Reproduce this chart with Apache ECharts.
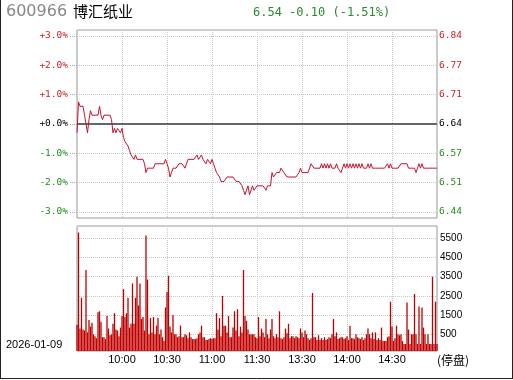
<!DOCTYPE html>
<html><head><meta charset="utf-8">
<script src="https://cdn.jsdelivr.net/npm/echarts@6/dist/echarts.min.js"></script>
<style>html,body{margin:0;padding:0;background:#fff}#c{width:513px;height:380px}</style>
</head><body><div id="c"></div>
<script>
const CODE = '600966';
const NAME = '博汇纸业';
const DATE = '2026-01-09';
const QUOTE = '6.54 -0.10 (-1.51%)';
const PREV_CLOSE = 6.64;
const TIME_LABELS = ['09:30','10:00','10:30','11:00','11:30','13:30','14:00','14:30','15:00'];
const VOL_TICKS = [500, 1500, 2500, 3500, 4500, 5500];

const PRICE = [
6.62,6.69,6.68,6.68,6.68,6.66,6.64,6.62,6.65,6.67,
6.66,6.66,6.66,6.66,6.66,6.68,6.66,6.65,6.66,6.66,
6.66,6.66,6.66,6.65,6.62,6.63,6.62,6.63,6.63,6.62,
6.63,6.61,6.60,6.60,6.59,6.58,6.57,6.57,6.56,6.57,
6.56,6.56,6.56,6.56,6.56,6.55,6.53,6.54,6.54,6.54,
6.54,6.54,6.55,6.55,6.55,6.55,6.55,6.55,6.55,6.56,
6.55,6.54,6.52,6.53,6.54,6.54,6.54,6.54,6.55,6.55,
6.55,6.55,6.54,6.55,6.56,6.56,6.56,6.56,6.56,6.56,
6.57,6.56,6.56,6.57,6.56,6.56,6.55,6.56,6.56,6.55,
6.56,6.55,6.54,6.53,6.53,6.52,6.51,6.51,6.51,6.51,
6.52,6.52,6.52,6.52,6.52,6.52,6.51,6.51,6.51,6.51,
6.50,6.49,6.48,6.48,6.50,6.48,6.49,6.50,6.49,6.49,
6.50,6.50,6.50,6.50,6.50,6.50,6.49,6.50,6.50,6.50,
6.53,6.52,6.52,6.53,6.53,6.53,6.54,6.54,6.53,6.53,
6.52,6.52,6.52,6.52,6.52,6.52,6.52,6.52,6.53,6.54,
6.53,6.53,6.53,6.53,6.53,6.53,6.55,6.55,6.54,6.54,
6.54,6.54,6.54,6.55,6.54,6.55,6.54,6.55,6.54,6.55,
6.54,6.54,6.54,6.55,6.54,6.54,6.53,6.54,6.55,6.54,
6.55,6.54,6.55,6.54,6.55,6.54,6.55,6.54,6.55,6.54,
6.55,6.54,6.54,6.54,6.55,6.54,6.55,6.54,6.54,6.54,
6.54,6.54,6.54,6.54,6.54,6.54,6.54,6.55,6.54,6.55,
6.54,6.54,6.54,6.54,6.54,6.54,6.55,6.55,6.55,6.55,
6.55,6.54,6.54,6.54,6.54,6.54,6.53,6.54,6.55,6.54,
6.55,6.54,6.54,6.54,6.54,6.54,6.54,6.54,6.54,6.54,
6.54
];

const VOLUME = [
1000,5800,800,2400,750,700,3850,600,1250,900,
1100,500,400,300,1650,1700,1150,350,350,250,
1450,800,450,500,1050,1600,750,700,400,850,
1450,2850,1400,1600,2400,850,1050,3150,1050,2400,
3500,2000,3150,1300,1400,700,5650,3350,500,1350,
600,1400,500,950,1350,500,750,350,150,1900,
2700,3550,900,600,1500,500,500,350,400,950,
350,350,500,450,300,600,350,250,250,250,
300,500,600,950,350,350,200,200,250,300,
250,300,300,1600,750,1350,400,2500,950,950,
600,1450,350,350,850,1700,700,1800,400,900,
600,3850,1450,1200,750,500,500,500,500,350,
300,1400,400,800,600,350,1300,500,300,750,
1300,400,300,500,350,1700,300,250,350,800,
550,1050,300,400,400,300,400,350,300,800,
600,350,700,500,300,200,300,2650,350,350,
200,450,200,300,200,350,200,250,350,300,
500,1300,400,600,250,300,350,350,250,300,
400,200,950,300,300,250,500,350,300,250,
350,200,300,500,800,500,300,600,250,600,
200,300,200,850,150,150,150,350,400,2200,
900,150,300,950,500,450,500,150,0,0,
2150,750,0,500,500,2600,500,0,1950,0,
1900,850,500,0,500,0,0,3500,0,2200,
0
];

const RED = '#cc1f1f', GREEN = '#1f8c1f', GRID = '#c8c8c8', BOX = '#9a9a9a';
const MONO = 'DejaVu Sans Mono';
const SANS = 'Liberation Sans';
const CJK = 'Noto Sans CJK SC';

const priceData = PRICE.map((p, i) => [i, p]);
const volData = VOLUME.map((v, i) => [i, v]);

const chart = echarts.init(document.getElementById('c'), null, {renderer: 'canvas'});
const L = 77, W = 360;
const option = {
  animation: false,
  backgroundColor: '#fff',
  grid: [
    {left: L, top: 36, width: W, height: 176},
    {left: L, top: 30, width: W, height: 188, show: true, borderColor: BOX, borderWidth: 1, backgroundColor: 'transparent', z: 0},
    {left: L, top: 238.3, width: W, height: 96},
    {left: L, top: 226, width: W, height: 125, show: true, borderColor: BOX, borderWidth: 1, backgroundColor: 'transparent', z: 0}
  ],
  xAxis: [
    {gridIndex: 0, type: 'value', min: 0, max: 240, show: false},
    {gridIndex: 1, type: 'value', min: 0, max: 240, interval: 30,
      axisLine: {show: false}, axisTick: {show: false}, axisLabel: {show: false},
      splitLine: {show: true, lineStyle: {color: GRID, type: 'dotted', width: 1}}},
    {gridIndex: 2, type: 'value', min: 0, max: 240, show: false},
    {gridIndex: 3, type: 'value', min: 0, max: 240, interval: 30, position: 'bottom',
      axisLine: {show: false}, axisTick: {show: false},
      axisLabel: {show: true, margin: 3, showMinLabel: false, showMaxLabel: false,
        fontFamily: SANS, fontSize: 11, color: '#000',
        formatter: v => TIME_LABELS[Math.round(v / 30)]},
      splitLine: {show: true, lineStyle: {color: GRID, type: 'dotted', width: 1}}}
  ],
  yAxis: [
    {gridIndex: 0, type: 'value', position: 'left', min: -3, max: 3, interval: 1,
      axisLine: {show: false},
      axisTick: {show: true, length: 8, lineStyle: {color: '#aaa', type: 'dotted'}},
      axisLabel: {margin: 9, fontFamily: MONO, fontSize: 9.5,
        formatter: v => (v >= 0 ? '+' : '') + Number(v).toFixed(1) + '%',
        color: v => Number(v) > 0.001 ? RED : (Number(v) < -0.001 ? GREEN : '#000')},
      splitLine: {show: true, lineStyle: {color: GRID, type: 'dotted', width: 1}}},
    {gridIndex: 0, type: 'value', position: 'right', min: PREV_CLOSE * 0.97, max: PREV_CLOSE * 1.03, interval: PREV_CLOSE * 0.01,
      axisLine: {show: false}, axisTick: {show: false}, splitLine: {show: false},
      axisLabel: {margin: 2, fontFamily: MONO, fontSize: 9.5,
        formatter: v => Number(v).toFixed(2),
        color: v => Number(v) > PREV_CLOSE + 0.001 ? RED : (Number(v) < PREV_CLOSE - 0.001 ? GREEN : '#000')}},
    {gridIndex: 1, type: 'value', min: 0, max: 1, show: false},
    {gridIndex: 2, type: 'value', position: 'right', min: VOL_TICKS[0], max: VOL_TICKS[VOL_TICKS.length - 1], interval: 1000,
      startValue: -370,
      axisLine: {show: false}, axisTick: {show: false},
      axisLabel: {margin: 3, fontFamily: SANS, fontSize: 10, color: '#000', formatter: v => String(Math.round(v))},
      splitLine: {show: true, lineStyle: {color: GRID, type: 'dotted', width: 1}}},
    {gridIndex: 3, type: 'value', min: 0, max: 1, show: false}
  ],
  series: [
    {type: 'line', xAxisIndex: 0, yAxisIndex: 1, data: priceData, showSymbol: false, symbol: 'none',
      lineStyle: {color: '#c41230', width: 1}, z: 5, clip: false,
      markLine: {silent: true, symbol: 'none', animation: false, label: {show: false},
        lineStyle: {color: '#666', type: 'solid', width: 2},
        data: [{yAxis: PREV_CLOSE}]}},
    {type: 'bar', xAxisIndex: 2, yAxisIndex: 3, data: volData, barWidth: 1.3, clip: false,
      itemStyle: {color: '#c00000'}, z: 4}
  ],
  graphic: [
    {type: 'text', left: 6, top: 4, style: {text: CODE, fill: '#888', font: '16px "DejaVu Sans"'}},
    {type: 'text', left: 73, top: 4, style: {text: NAME, fill: '#000', font: '15px "' + CJK + '"'}},
    {type: 'text', left: 253, top: 7, style: {text: QUOTE, fill: '#2a8a2a', font: '12px "' + MONO + '"'}},
    {type: 'text', left: 6, top: 339, style: {text: DATE, fill: '#000', font: '11px "' + SANS + '"'}},
    {type: 'text', left: 437, top: 354, style: {text: '(停盘)', fill: '#000', font: '12px "' + CJK + '"'}},
    {type: 'line', shape: {x1: 0.5, y1: 0, x2: 0.5, y2: 379}, style: {stroke: '#222', lineWidth: 1}},
    {type: 'line', shape: {x1: 512.5, y1: 0, x2: 512.5, y2: 379}, style: {stroke: '#222', lineWidth: 1}},
    {type: 'line', shape: {x1: 0, y1: 378.5, x2: 513, y2: 378.5}, style: {stroke: '#222', lineWidth: 1}}
  ]
};
chart.setOption(option);
</script>
</body></html>
